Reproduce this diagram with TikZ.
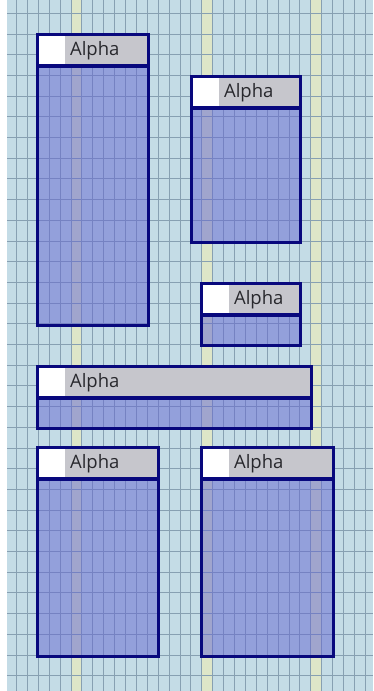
\documentclass[tikz,border=0pt]{standalone}
\usepackage{fontspec}
\setmainfont{Open Sans}
\usetikzlibrary{positioning}

\definecolor{gridbg}{RGB}{196,220,230}
\definecolor{gridln}{RGB}{135,160,178}
\definecolor{stripe}{RGB}{222,230,200}
\definecolor{navy}{RGB}{8,8,125}
\definecolor{headgray}{RGB}{198,198,204}
\definecolor{bodyblue}{RGB}{100,102,210}
\definecolor{labeltext}{RGB}{40,40,45}

% one box: name, left, top, right, bottom (outer edges)
\newcommand{\alphabox}[5]{%
  \pgfmathsetmacro{\boxw}{#4-#2-3.4}%
  \pgfmathsetmacro{\boxh}{#5-#3-3.4}%
  \node[body, minimum width=\boxw pt, minimum height=\boxh pt] (#1) at (#2+1.7,#3+1.7) {};
  \node[head, minimum width=\boxw pt] (#1-head) at (#2+1.7,#3+1.7) {};
  \node[whitesq, below right=1.7pt and 1.7pt of #1-head.north west] (#1-sq) {};
  \node[label, right=4.5pt of #1-sq] (#1-label) {Alpha};
}

\begin{document}
\begin{tikzpicture}[
    x=1pt, y=-1pt,
    body/.style={draw=navy, line width=3.4pt, fill=bodyblue, fill opacity=0.5, anchor=north west, inner sep=0pt, outer sep=0pt},
    head/.style={draw=navy, line width=3.4pt, fill=headgray, anchor=north west, minimum height=31.3pt, inner sep=0pt, outer sep=0pt},
    whitesq/.style={fill=white, minimum width=26pt, minimum height=27.9pt, inner sep=0pt, outer sep=0pt},
    label/.style={font=\fontsize{18.5}{20}\selectfont, text=labeltext, inner sep=0pt, anchor=west}
]
\useasboundingbox (0,0) rectangle (373,691);
% background grid
\fill[white] (0,0) rectangle (373,691);
\fill[gridbg] (7,0) rectangle (373,691);
\foreach \k in {5,17,27}
  \fill[stripe] ({16.5+10.9*\k},0) rectangle ({16.5+10.9*(\k+1)},691);
\foreach \k in {0,...,32}
  \draw[gridln, line width=1pt] ({16.5+10.9*\k},0) -- ++(0,691);
\foreach \k in {0,...,32}
  \draw[gridln, line width=1pt] (7,{13.3+20.7*\k}) -- (373,{13.3+20.7*\k});

% boxes
\alphabox{topleft}{36}{33}{150}{327}
\alphabox{topright}{190}{75}{302}{244}
\alphabox{small}{200}{282}{302}{347}
\alphabox{wide}{36}{365}{313}{430}
\alphabox{lowleft}{36}{446}{160}{658}
\alphabox{lowright}{200}{446}{335}{658}
\end{tikzpicture}
\end{document}
